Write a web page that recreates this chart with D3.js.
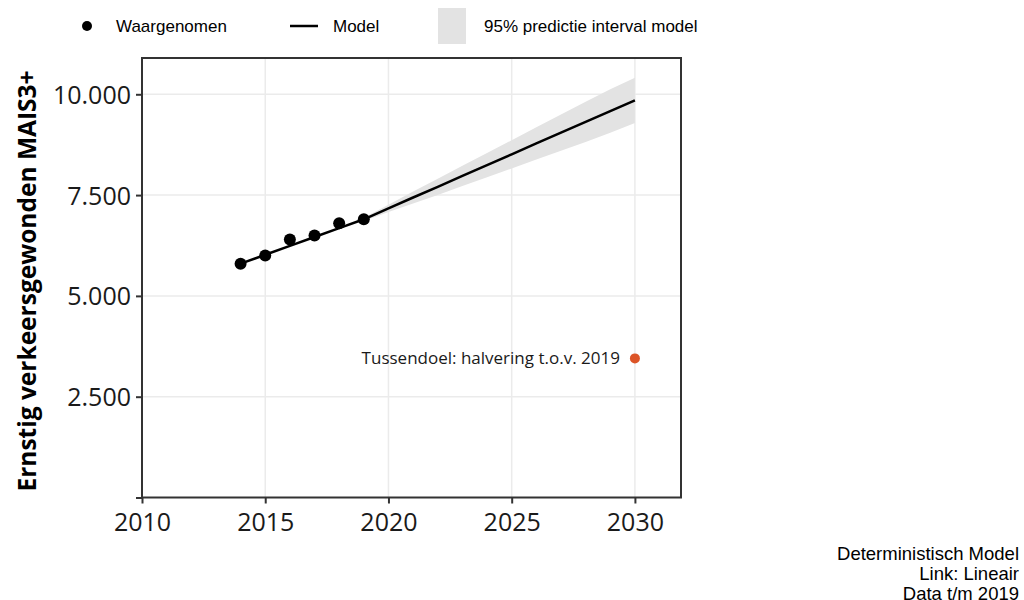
<!DOCTYPE html>
<html>
<head>
<meta charset="utf-8">
<script src="https://cdn.jsdelivr.net/npm/d3@7"></script>
<style>
  html, body { margin: 0; padding: 0; background: #fff; }
  svg { display: block; }
</style>
</head>
<body>
<svg id="chart" width="1024" height="600"></svg>
<script>
// Observed counts of seriously injured road users (MAIS3+)
const obsYears = [2014, 2015, 2016, 2017, 2018, 2019];
const obsValues = [5800, 6000, 6400, 6500, 6800, 6900];

// Deterministic linear model fit and projection
const modelYears = [2014, 2015, 2016, 2017, 2018, 2019, 2020, 2021, 2022, 2023, 2024, 2025, 2026, 2027, 2028, 2029, 2030];
const modelValues = [5800, 6020, 6240, 6460, 6680, 6900, 7170, 7440, 7705, 7975, 8245, 8510, 8780, 9050, 9315, 9585, 9850];

// 95% prediction interval of the model
const bandYears = [2019, 2020, 2021, 2022, 2023, 2024, 2025, 2026, 2027, 2028, 2029, 2030];
const bandLower = [6860, 7080, 7290, 7505, 7725, 7945, 8160, 8380, 8600, 8815, 9045, 9290];
const bandUpper = [6940, 7260, 7590, 7905, 8225, 8545, 8860, 9180, 9500, 9815, 10125, 10410];

// Interim target: halving relative to 2019
const targetYear = 2030;
const targetValue = 3450;
const targetLabel = "Tussendoel: halvering t.o.v. 2019";

// Axis ticks
const xTicks = [2010, 2015, 2020, 2025, 2030];
const yTicks = [0, 2500, 5000, 7500, 10000];

const legendItems = ["Waargenomen", "Model", "95% predictie interval model"];
const captionLines = ["Deterministisch Model", "Link: Lineair", "Data t/m 2019"];
const yTitle = "Ernstig verkeersgewonden MAIS3+";

const svg = d3.select("#chart");
const panel = { left: 142, right: 681, top: 58, bottom: 497.5 };

const x = d3.scaleLinear().domain([2010, 2031.87]).range([panel.left, panel.right]);
const y = d3.scaleLinear().domain([0, 10900]).range([panel.bottom, panel.top]);

const fmt = d3.formatLocale({ decimal: ",", thousands: ".", grouping: [3], currency: ["€", ""] }).format(",");

// Grid lines
const grid = svg.append("g");
grid.selectAll("line.gx").data(xTicks.filter(t => t > 2010)).join("line")
  .attr("x1", d => x(d)).attr("x2", d => x(d))
  .attr("y1", panel.top).attr("y2", panel.bottom)
  .attr("stroke", "#ebebeb").attr("stroke-width", 1.5);
grid.selectAll("line.gy").data(yTicks.filter(t => t > 0)).join("line")
  .attr("x1", panel.left).attr("x2", panel.right)
  .attr("y1", d => y(d)).attr("y2", d => y(d))
  .attr("stroke", "#ebebeb").attr("stroke-width", 1.5);

// Prediction band
const bandData = bandYears.map((yr, i) => ({ yr, lo: bandLower[i], hi: bandUpper[i] }));
svg.append("path")
  .datum(bandData)
  .attr("fill", "#e3e3e3")
  .attr("d", d3.area().x(d => x(d.yr)).y0(d => y(d.lo)).y1(d => y(d.hi)));

// Model line
const modelData = modelYears.map((yr, i) => ({ yr, v: modelValues[i] }));
svg.append("path")
  .datum(modelData)
  .attr("fill", "none")
  .attr("stroke", "#000")
  .attr("stroke-width", 2.5)
  .attr("d", d3.line().x(d => x(d.yr)).y(d => y(d.v)));

// Observed points
svg.append("g").selectAll("circle").data(obsYears.map((yr, i) => ({ yr, v: obsValues[i] }))).join("circle")
  .attr("cx", d => x(d.yr)).attr("cy", d => y(d.v)).attr("r", 6)
  .attr("fill", "#000");

// Target point and label
svg.append("circle")
  .attr("cx", x(targetYear)).attr("cy", y(targetValue)).attr("r", 5)
  .attr("fill", "#dc5427");
svg.append("text")
  .attr("x", x(targetYear) - 15).attr("y", y(targetValue))
  .attr("dy", "0.35em")
  .attr("text-anchor", "end")
  .attr("font-family", "'Open Sans', sans-serif")
  .attr("font-size", 17)
  .attr("fill", "#1a1a1a")
  .text(targetLabel);

// Panel border
svg.append("rect")
  .attr("x", panel.left).attr("y", panel.top)
  .attr("width", panel.right - panel.left).attr("height", panel.bottom - panel.top)
  .attr("fill", "none").attr("stroke", "#333").attr("stroke-width", 2);

// Axes
const xAxis = svg.append("g")
  .attr("transform", `translate(0,${panel.bottom})`)
  .call(d3.axisBottom(x).tickValues(xTicks).tickFormat(d3.format("d")).tickSize(6).tickPadding(6));
const yAxis = svg.append("g")
  .attr("transform", `translate(${panel.left},0)`)
  .call(d3.axisLeft(y).tickValues(yTicks).tickFormat(d => d === 0 ? "" : fmt(d)).tickSize(6).tickPadding(5));

[xAxis, yAxis].forEach(g => {
  g.select(".domain").remove();
  g.selectAll(".tick line").attr("stroke", "#333").attr("stroke-width", 2);
  g.selectAll(".tick text")
    .attr("font-family", "'Open Sans', sans-serif")
    .attr("font-size", 25)
    .attr("fill", "#1a1a1a");
});
xAxis.selectAll(".tick text").attr("dy", "0.85em");
yAxis.selectAll(".tick text").attr("dy", "0.36em");

// Y axis title
svg.append("text")
  .attr("transform", `translate(36,281) rotate(-90)`)
  .attr("text-anchor", "middle")
  .attr("font-family", "'Open Sans', sans-serif")
  .attr("font-weight", "bold")
  .attr("font-size", 24.5)
  .attr("fill", "#000")
  .text(yTitle);

// Legend
const legend = svg.append("g").attr("font-family", "'Liberation Sans', Arial, sans-serif").attr("font-size", 17);
legend.append("circle").attr("cx", 87).attr("cy", 26).attr("r", 5).attr("fill", "#000");
legend.append("text").attr("x", 116).attr("y", 26).attr("dy", "0.35em").text(legendItems[0]);
legend.append("line").attr("x1", 290).attr("x2", 318).attr("y1", 26).attr("y2", 26)
  .attr("stroke", "#000").attr("stroke-width", 2.5);
legend.append("text").attr("x", 333).attr("y", 26).attr("dy", "0.35em").text(legendItems[1]);
legend.append("rect").attr("x", 438).attr("y", 8).attr("width", 28).attr("height", 36).attr("fill", "#e3e3e3");
legend.append("text").attr("x", 484).attr("y", 26).attr("dy", "0.35em").text(legendItems[2]);

// Caption
svg.append("g").selectAll("text").data(captionLines).join("text")
  .attr("x", 1019).attr("y", (d, i) => 560 + i * 20)
  .attr("text-anchor", "end")
  .attr("font-family", "'Liberation Sans', Arial, sans-serif")
  .attr("font-size", 18.5)
  .attr("fill", "#000")
  .text(d => d);
</script>
</body>
</html>
